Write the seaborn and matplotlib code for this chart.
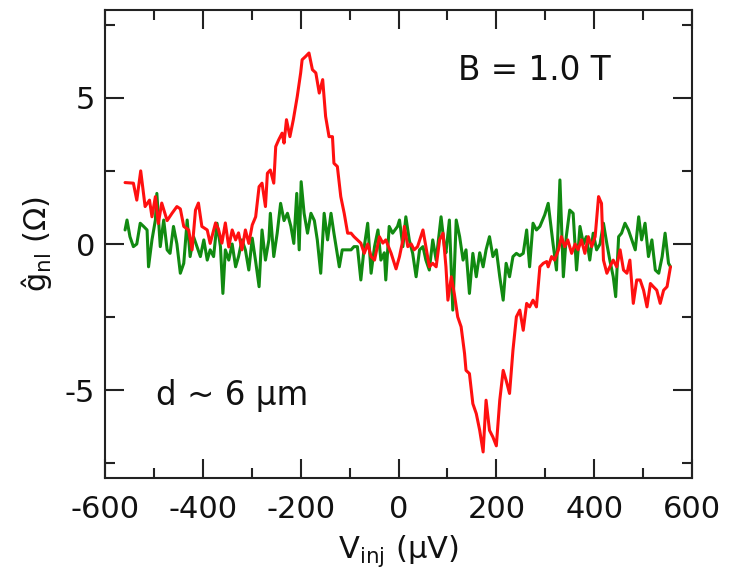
import matplotlib
matplotlib.use("Agg")
import matplotlib.pyplot as plt
import pandas as pd
import seaborn as sns
from matplotlib.ticker import MultipleLocator

# Nonlocal signal versus injection bias, B = 1.0 T, d ~ 6 um
red_v = [-559, -542, -535, -527, -518, -509, -504, -497, -491, -484, -473, -463,
         -453, -446, -439, -429, -422, -415, -409, -402, -391, -385, -374, -368,
         -361, -354, -347, -340, -333, -327, -320, -313, -306, -299, -292, -285,
         -279, -272, -268, -262, -255, -251, -245, -238, -234, -229, -222, -215,
         -207, -200, -197, -190, -183, -176, -169, -162, -155, -149, -142, -135,
         -132, -125, -118, -111, -104, -97, -91, -84, -77, -70, -63, -56, -49,
         -39, -32, -26, -15, -5, 2, 9, 12, 19, 26, 32, 39, 50, 56, 63, 70, 77,
         84, 91, 97, 101, 108, 114, 121, 128, 135, 138, 145, 152, 159, 166, 173,
         179, 186, 193, 200, 207, 214, 220, 227, 234, 241, 248, 255, 262, 268,
         275, 282, 289, 296, 303, 306, 313, 319, 327, 333, 340, 346, 354, 361,
         367, 374, 381, 388, 395, 402, 409, 412, 415, 419, 426, 432, 439, 446,
         453, 460, 467, 473, 480, 487, 494, 501, 508, 515, 521, 528, 535, 542,
         549, 556]
red_g = [2.10, 2.08, 1.50, 2.50, 1.28, 1.50, 0.93, 1.62, 0.70, 1.40, 0.80, 1.05,
         1.28, 1.20, 0.60, 0.48, -0.20, 1.16, 1.40, 0.60, 0.48, 0.02, 0.72, 0.50,
         0.03, 0.72, -0.10, 0.48, 0.14, 0.38, -0.20, 0.48, 0.02, 0.65, 0.93, 1.96,
         2.08, 1.28, 2.42, 2.53, 2.08, 3.33, 3.56, 3.79, 3.45, 4.25, 3.67, 4.25,
         5.04, 5.85, 6.30, 6.41, 6.53, 5.96, 5.85, 5.16, 5.62, 4.36, 3.67, 3.67,
         2.76, 2.65, 1.62, 1.05, 0.37, 0.37, 0.25, 0.14, 0.03, -0.32, 0.00, -0.43,
         -0.55, 0.25, 0.03, 0.14, -0.32, -0.85, -0.43, 0.14, 0.60, -0.09, 0.00,
         -0.20, -0.09, 0.48, -0.09, -0.78, -0.66, -0.78, 0.14, 0.37, -0.78, -1.92,
         -1.12, -1.69, -2.49, -2.83, -3.74, -4.32, -4.43, -5.46, -5.80, -6.37,
         -7.11, -5.34, -6.37, -6.60, -6.90, -5.34, -4.32, -4.66, -5.11, -3.63,
         -2.49, -2.26, -2.95, -2.03, -2.15, -1.92, -2.15, -0.78, -0.66, -0.60,
         -0.78, -0.43, -0.55, -0.20, 0.25, -0.09, 0.14, -0.32, 0.00, -0.20, 0.14,
         -0.32, 0.25, -0.09, 0.25, 1.62, 1.50, 1.39, -0.55, -1.00, -0.78, -0.55,
         -0.78, -0.20, -0.89, -1.00, -0.55, -2.03, -1.23, -1.23, -1.58, -2.15,
         -1.35, -1.46, -1.58, -2.03, -1.58, -1.46, -0.78]

green_v = [-559, -555, -549, -542, -535, -528, -521, -514, -511, -504, -497, -494,
           -487, -480, -473, -467, -460, -453, -446, -439, -432, -426, -419, -412,
           -405, -398, -391, -385, -378, -371, -364, -359, -354, -347, -340, -333,
           -327, -320, -313, -306, -299, -292, -285, -279, -272, -265, -262, -255,
           -248, -241, -234, -227, -220, -214, -208, -203, -199, -193, -186, -179,
           -172, -166, -159, -152, -145, -138, -132, -121, -115, -108, -97, -91,
           -84, -77, -70, -63, -56, -49, -42, -36, -29, -26, -19, -12, -2, 2, 9,
           15, 22, 29, 36, 43, 50, 56, 63, 70, 77, 87, 94, 97, 104, 111, 118, 125,
           132, 138, 145, 152, 159, 166, 173, 179, 186, 193, 200, 207, 214, 220,
           227, 234, 241, 248, 255, 262, 268, 275, 282, 289, 299, 306, 316, 323,
           330, 337, 343, 350, 357, 364, 371, 378, 384, 391, 398, 405, 412, 419,
           426, 432, 439, 444, 450, 456, 463, 470, 477, 484, 491, 497, 504, 511,
           518, 525, 532, 539, 545, 552, 556]
green_g = [0.48, 0.82, 0.25, -0.09, 0.00, 0.71, 0.60, 0.48, -0.78, 0.14, 0.82, 1.73,
           -0.09, 0.82, -0.20, -0.32, 0.60, 0.00, -1.00, -0.66, 0.82, -0.43, 0.25,
           -0.09, -0.43, 0.14, -0.55, -0.20, -0.43, 0.71, -0.09, -1.69, -0.20,
           -0.55, 0.00, -0.78, -0.43, 0.14, -0.20, -0.89, 0.20, -0.60, -1.46, 0.48,
           -0.55, 0.14, 1.05, -0.43, 0.37, 1.39, 0.80, 1.05, 0.60, 0.02, 1.73,
           -0.20, 2.13, 1.05, 0.37, 1.05, 0.80, 0.14, -1.00, 1.05, 0.14, 1.05, 0.37,
           -0.78, -0.20, -0.20, -0.20, -0.09, -0.09, -1.23, -0.09, 0.71, -1.00,
           -0.09, 0.48, -0.55, -0.30, -1.23, 0.60, 0.37, 0.60, 0.82, -0.09, 0.93,
           0.14, -0.32, -1.12, -0.20, -0.09, -0.55, -0.89, 0.14, -0.55, 0.93, -0.09,
           -0.30, 0.82, -2.26, 0.82, 0.25, -0.55, -0.20, -1.69, -0.32, -1.12, -0.30,
           -0.78, -0.20, 0.25, -0.43, -0.20, -1.12, -1.92, -0.66, -1.12, -0.43,
           -0.32, -0.40, -0.32, 0.48, -0.78, 0.71, 0.48, 0.60, 1.00, 1.39, 0.00,
           -0.89, 2.19, -1.12, 0.25, 1.16, 1.05, -0.89, 0.60, 0.00, 0.25, -0.55,
           0.37, -0.20, 0.00, 0.71, 0.00, -0.55, -1.12, -1.80, 0.25, 0.37, 0.71,
           0.48, 0.14, -0.20, 0.93, 0.14, 0.71, -0.43, 0.14, -0.89, -1.00, -0.43,
           0.37, -0.66, -0.78]

x_ticks = [-600, -400, -200, 0, 200, 400, 600]
y_ticks = [-5, 0, 5]

red_df = pd.DataFrame({"V": red_v, "g": red_g})
green_df = pd.DataFrame({"V": green_v, "g": green_g})

sns.set_theme(style="ticks")
plt.rcParams["font.family"] = ["DejaVu Sans"]
plt.rcParams["mathtext.default"] = "regular"
plt.rcParams["axes.unicode_minus"] = False

fig = plt.figure(figsize=(7.34, 5.72), dpi=100)
ax = fig.add_axes([105 / 734, 94 / 572, 587 / 734, 468 / 572])

sns.lineplot(data=green_df, x="V", y="g", color="#118a11", linewidth=2.2,
             estimator=None, sort=False, ax=ax)
sns.lineplot(data=red_df, x="V", y="g", color="#ff1010", linewidth=2.2,
             estimator=None, sort=False, ax=ax)

ax.set_xlim(-600, 600)
ax.set_ylim(-8, 8)
ax.set_xticks(x_ticks)
ax.set_yticks(y_ticks)
ax.xaxis.set_minor_locator(MultipleLocator(100))
ax.yaxis.set_minor_locator(MultipleLocator(2.5))
ax.tick_params(which="both", direction="in", top=True, right=True,
               width=1.5, color="#222222", labelsize=22, labelcolor="#111111")
ax.tick_params(which="major", length=14)
ax.tick_params(which="minor", length=7)
ax.tick_params(axis="x", pad=12)
ax.tick_params(axis="y", pad=7)
for s in ax.spines.values():
    s.set_linewidth(1.5)
    s.set_color("#222222")

ax.set_xlabel(r"V$_{inj}$ (µV)", fontsize=22, labelpad=7, color="#111111")
ax.set_ylabel(r"ĝ$_{nl}$ (Ω)", fontsize=22, labelpad=8, color="#111111")

ax.text(122, 5.62, "B = 1.0 T", fontsize=23.5, ha="left", va="baseline",
        color="#111111")
ax.text(-495, -5.51, "d ~ 6 µm", fontsize=23.5, ha="left", va="baseline",
        color="#111111")

fig.savefig("out.png", dpi=100)
